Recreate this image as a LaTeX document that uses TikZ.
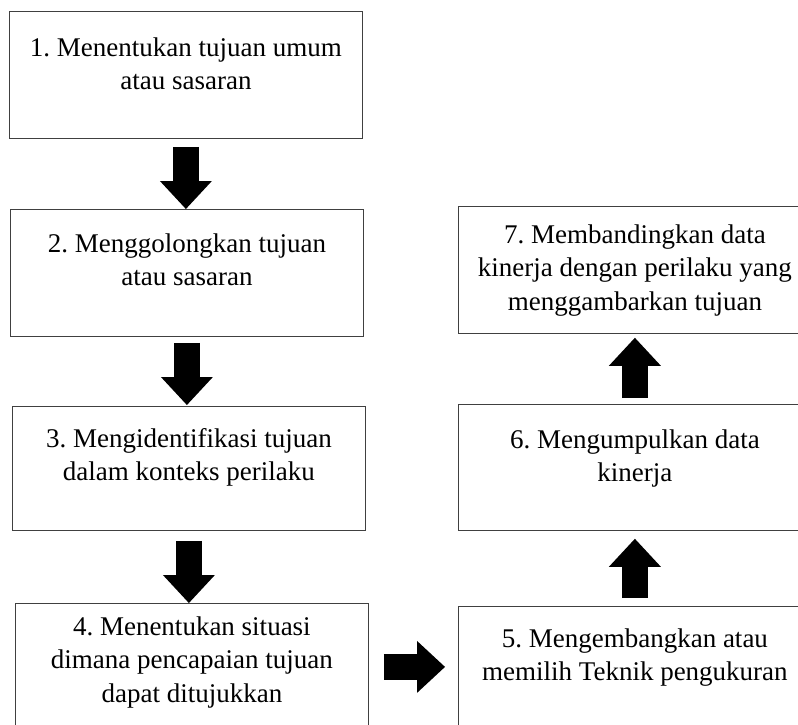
\documentclass[tikz,border=0pt]{standalone}
\usepackage{fontspec}
\newfontfamily\stepfont{Liberation Serif}
\usetikzlibrary{arrows.meta}
\frenchspacing

\begin{document}
\begin{tikzpicture}[x=1pt,y=-1pt]
\tikzset{
  stepbox/.style={draw=black!75,line width=0.8pt,anchor=north west,minimum width=353pt,
    text width=345pt,align=flush center,inner sep=0pt,font=\stepfont\fontsize{27pt}{33.5pt}\selectfont},
  blockarrow/.style={line width=26pt,-{Triangle[width=52pt,length=28pt,line width=0pt]}}
}
\useasboundingbox (0,0) rectangle (798,724);
\clip (0,0) rectangle (798,724);
% left column, top to bottom
\node[stepbox,text height=45pt,text depth=82pt] (s1) at (9,11) {1. Menentukan tujuan umum\\atau sasaran};
\node[stepbox,text height=43pt,text depth=84pt] (s2) at (10,209) {2. Menggolongkan tujuan\\atau sasaran};
\node[stepbox,text height=41pt,text depth=83pt] (s3) at (12,406) {3. Mengidentifikasi tujuan\\dalam konteks perilaku};
\node[stepbox,text height=32pt,text depth=95pt] (s4) at (15,603) {4. Menentukan situasi\\dimana pencapaian tujuan\\dapat ditujukkan};
% right column, bottom to top
\node[stepbox,text height=41pt,text depth=86pt] (s5) at (458,606) {5. Mengembangkan atau\\memilih Teknik pengukuran};
\node[stepbox,text height=44pt,text depth=82pt] (s6) at (458,404) {6. Mengumpulkan data\\kinerja};
\node[stepbox,text height=37pt,text depth=90pt] (s7) at (458,206) {7. Membandingkan data\\kinerja dengan perilaku yang\\menggambarkan tujuan};
% block arrows
\draw[blockarrow,shorten <=8pt] (s1.south) -- (s1.south |- s2.north);
\draw[blockarrow,shorten <=6pt,shorten >=1pt] (s2.south) -- (s2.south |- s3.north);
\draw[blockarrow,shorten <=10pt] (s3.south) -- (s3.south |- s4.north);
\draw[blockarrow,shorten <=15pt,shorten >=13pt] (s4.east) -- (s4.east -| s5.west);
\draw[blockarrow,shorten <=8pt,shorten >=8pt] (s5.north) -- (s6.south);
\draw[blockarrow,shorten <=6pt,shorten >=4pt] (s6.north) -- (s7.south);
\end{tikzpicture}
\end{document}
